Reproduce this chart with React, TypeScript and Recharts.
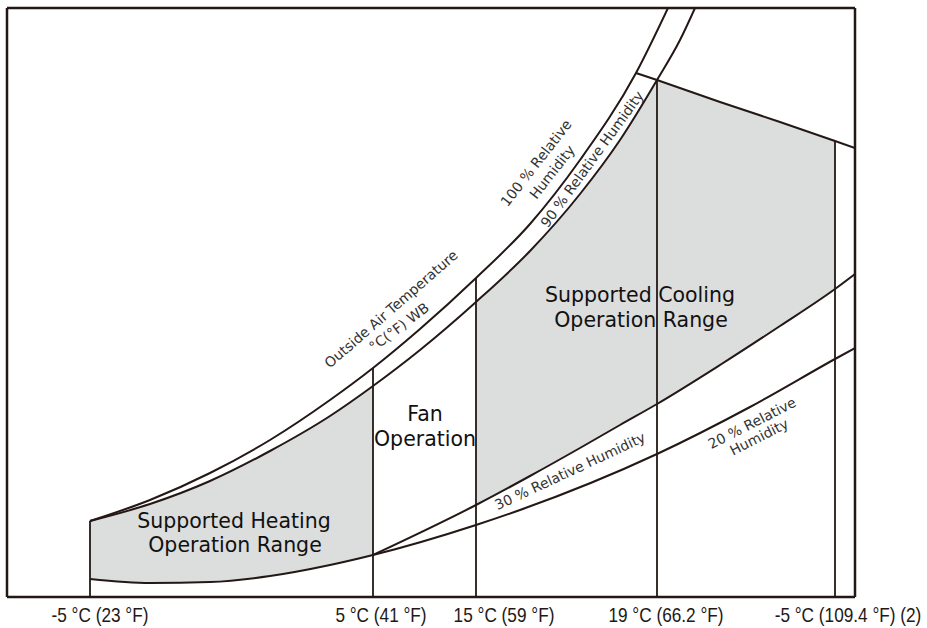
import React from 'react';
import { ComposedChart, Line, Area, XAxis, YAxis, ReferenceLine } from 'recharts';

type Pt = { x: number; y: number };

// Chart units: x measured from the left frame edge, y measured up from the bottom frame edge.
const rh100: Pt[] = [
  { x: 83, y: 76 }, { x: 143, y: 97 }, { x: 203, y: 124 }, { x: 263, y: 157 }, { x: 323, y: 197 },
  { x: 366, y: 229 }, { x: 413, y: 268 }, { x: 469, y: 319 }, { x: 523, y: 373 }, { x: 573, y: 437 },
  { x: 629, y: 524 }, { x: 661, y: 589 },
];

const rh90: Pt[] = [
  { x: 83, y: 76 }, { x: 143, y: 93 }, { x: 203, y: 116 }, { x: 263, y: 146 }, { x: 323, y: 181 },
  { x: 366, y: 211 }, { x: 413, y: 247 }, { x: 469, y: 295 }, { x: 523, y: 346 }, { x: 573, y: 403 },
  { x: 613, y: 457 }, { x: 650, y: 517 }, { x: 673, y: 557 }, { x: 688, y: 589 },
];

const lowerBound: Pt[] = [
  { x: 83, y: 18 }, { x: 143, y: 14 }, { x: 203, y: 15 }, { x: 263, y: 21 }, { x: 323, y: 32 }, { x: 366, y: 42 },
];

const rh30: Pt[] = [
  { x: 366, y: 42 }, { x: 469, y: 92 }, { x: 523, y: 121 }, { x: 573, y: 149 }, { x: 613, y: 172 },
  { x: 650, y: 193 }, { x: 713, y: 232 }, { x: 773, y: 271 }, { x: 828, y: 308 }, { x: 848, y: 323 },
];

const rh20: Pt[] = [
  { x: 366, y: 42 }, { x: 469, y: 72 }, { x: 513, y: 87 }, { x: 650, y: 143 }, { x: 743, y: 190 },
  { x: 828, y: 238 }, { x: 848, y: 249 },
];

const upperLimit: Pt[] = [
  { x: 629, y: 524 }, { x: 650, y: 517 }, { x: 713, y: 495 }, { x: 773, y: 475 }, { x: 828, y: 456 }, { x: 848, y: 449 },
];

const tickValues = [83, 366, 469, 650, 828];
const tickLabels = ['-5 °C (23 °F)', '5 °C (41 °F)', '15 °C (59 °F)', '19 °C (66.2 °F)', '-5 °C (109.4 °F) (2)'];

const X_MAX = 848;
const Y_MAX = 589;

const yAt = (arr: Pt[], x: number) => {
  const p = arr.find((q) => q.x === x);
  return p ? p.y : undefined;
};

const heatingBand = lowerBound.map((p) => ({ x: p.x, band: [p.y, yAt(rh90, p.x) as number] }));
const coolingLeft = rh30
  .filter((p) => p.x >= tickValues[2] && p.x <= tickValues[3])
  .map((p) => ({ x: p.x, band: [p.y, yAt(rh90, p.x) as number] }));
const coolingRight = rh30
  .filter((p) => p.x >= tickValues[3] && p.x <= tickValues[4])
  .map((p) => ({ x: p.x, band: [p.y, yAt(upperLimit, p.x) as number] }));
const bottomCurve = [...lowerBound, ...rh20.slice(1)];

const verticals = tickValues.map((x) => ({
  x,
  top: (yAt(rh100, x) ?? yAt(upperLimit, x)) as number,
}));

const INK = '#231815';
const FILL = '#dcdddd';

const tickShift = [10, 8, 28, 9, 13];

function AxisTick(props: any) {
  const { x, payload } = props;
  const i = tickValues.indexOf(payload.value);
  if (i < 0) return null;
  return (
    <text
      transform={`translate(${x + tickShift[i]},622) scale(0.82,1)`}
      textAnchor="middle"
      fontSize={21}
      fontFamily="'Liberation Sans', Arial, sans-serif"
      fill={INK}
    >
      {tickLabels[i]}
    </text>
  );
}

const bigLabels = [
  { t: 'Supported Heating', x: 234, y: 528 },
  { t: 'Operation Range', x: 235, y: 552 },
  { t: 'Fan', x: 425, y: 421 },
  { t: 'Operation', x: 425, y: 446 },
  { t: 'Supported Cooling', x: 640, y: 302 },
  { t: 'Operation Range', x: 641, y: 327 },
];

const curveLabels = [
  { t: 'Outside Air Temperature', x: 391, y: 309, a: -41 },
  { t: '°C(°F) WB', x: 399, y: 327, a: -37 },
  { t: '100 % Relative', x: 536, y: 163, a: -52 },
  { t: 'Humidity', x: 552, y: 172, a: -52 },
  { t: '90 % Relative Humidity', x: 592, y: 159, a: -54 },
  { t: '30 % Relative Humidity', x: 570, y: 471, a: -25 },
  { t: '20 % Relative', x: 752, y: 423, a: -27 },
  { t: 'Humidity', x: 759, y: 437, a: -27 },
];

const Annotations = () => (
  <svg
    width={927}
    height={628}
    style={{ position: 'absolute', left: 0, top: 0, pointerEvents: 'none' }}
  >
    {bigLabels.map((l, i) => (
      <text key={'b' + i} x={l.x} y={l.y} textAnchor="middle" fontSize={20.5} fontFamily="'DejaVu Sans', sans-serif" fill="#111">
        {l.t}
      </text>
    ))}
    {curveLabels.map((l, i) => (
      <text
        key={'c' + i}
        transform={`translate(${l.x},${l.y}) rotate(${l.a})`}
        textAnchor="middle"
        dominantBaseline="central"
        fontSize={14}
        fontFamily="'DejaVu Sans', sans-serif"
        fill="#333"
      >
        {l.t}
      </text>
    ))}
  </svg>
);

export default function App() {
  return (
    <div style={{ position: 'absolute', left: 0, top: 0, width: 927, height: 628, background: '#fff' }}>
      <ComposedChart width={927} height={628} margin={{ top: 0, right: 0, bottom: 0, left: 0 }}>
        <XAxis
          type="number"
          dataKey="x"
          domain={[0, X_MAX]}
          ticks={tickValues}
          interval={0}
          allowDataOverflow
          height={31}
          tickSize={0}
          tickMargin={0}
          tickLine={false}
          tick={<AxisTick />}
          axisLine={{ stroke: INK, strokeWidth: 2.5 }}
        />
        <XAxis
          xAxisId="top"
          orientation="top"
          type="number"
          domain={[0, X_MAX]}
          height={8}
          tick={false}
          tickLine={false}
          axisLine={{ stroke: INK, strokeWidth: 2.5 }}
        />
        <YAxis
          type="number"
          domain={[0, Y_MAX]}
          allowDataOverflow
          width={7}
          tick={false}
          tickLine={false}
          axisLine={{ stroke: INK, strokeWidth: 2.5 }}
        />
        <YAxis
          yAxisId="right"
          orientation="right"
          type="number"
          domain={[0, Y_MAX]}
          width={72}
          tick={false}
          tickLine={false}
          axisLine={{ stroke: INK, strokeWidth: 2.5 }}
        />
        <Area data={heatingBand} dataKey="band" type="monotone" fill={FILL} fillOpacity={1} stroke="none" isAnimationActive={false} />
        <Area data={coolingLeft} dataKey="band" type="monotone" fill={FILL} fillOpacity={1} stroke="none" isAnimationActive={false} />
        <Area data={coolingRight} dataKey="band" type="linear" fill={FILL} fillOpacity={1} stroke="none" isAnimationActive={false} />
        <Line data={rh100} dataKey="y" type="monotone" stroke={INK} strokeWidth={2} dot={false} isAnimationActive={false} />
        <Line data={rh90} dataKey="y" type="monotone" stroke={INK} strokeWidth={2} dot={false} isAnimationActive={false} />
        <Line data={bottomCurve} dataKey="y" type="monotone" stroke={INK} strokeWidth={2} dot={false} isAnimationActive={false} />
        <Line data={rh30} dataKey="y" type="monotone" stroke={INK} strokeWidth={2} dot={false} isAnimationActive={false} />
        <Line data={upperLimit} dataKey="y" type="linear" stroke={INK} strokeWidth={2} dot={false} isAnimationActive={false} />
        {verticals.map((v) => (
          <ReferenceLine
            key={v.x}
            segment={[{ x: v.x, y: 0 }, { x: v.x, y: v.top }]}
            stroke={INK}
            strokeWidth={1.8}
          />
        ))}
      </ComposedChart>
      <Annotations />
    </div>
  );
}
